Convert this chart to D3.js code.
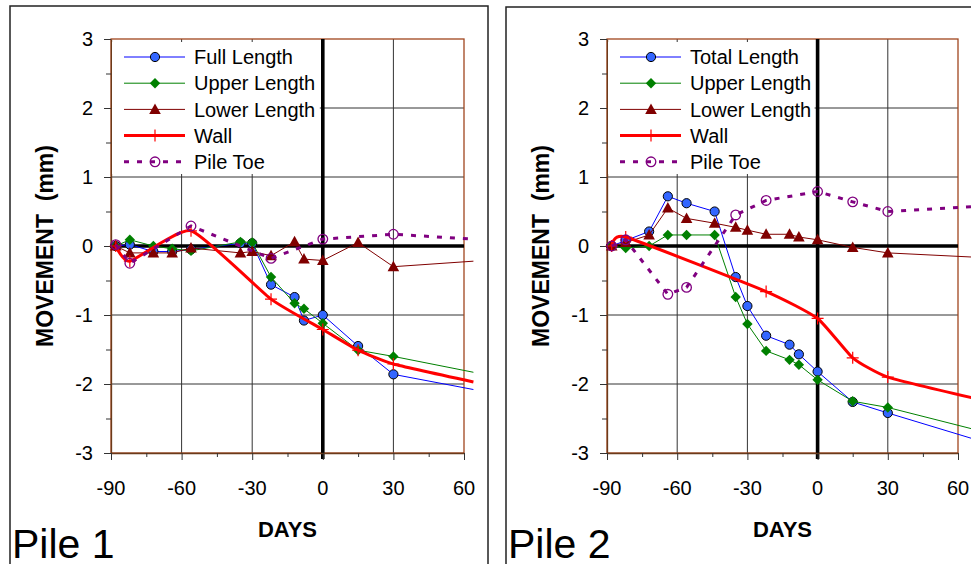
<!DOCTYPE html>
<html>
<head>
<meta charset="utf-8">
<script src="https://cdn.jsdelivr.net/npm/d3@7"></script>
<style>
  body { margin: 0; background: #fff; }
  svg { display: block; font-family: Arial, "Liberation Sans", sans-serif; }
</style>
</head>
<body>
<svg id="chart" width="971" height="564"></svg>
<script>
// Axis ticks
const xTickValues = [-90, -60, -30, 0, 30, 60];
const yTickValues = [3, 2, 1, 0, -1, -2, -3];

// Legend labels
const pile1Names = ["Full Length", "Upper Length", "Lower Length", "Wall", "Pile Toe"];
const pile2Names = ["Total Length", "Upper Length", "Lower Length", "Wall", "Pile Toe"];

// Pile 1 readings: days from reference date, movement in mm
const pile1Days  = [-88, -82, -72, -64, -56, -35, -30, -22, -12, -8, 0, 15, 30];
const pile1Full  = [0, 0.02, -0.08, -0.08, -0.05, 0.04, 0.04, -0.56, -0.74, -1.08, -1.0, -1.45, -1.86];
const pile1Upper = [0, 0.09, 0, -0.04, -0.07, 0.06, 0.05, -0.45, -0.83, -0.91, -1.12, -1.51, -1.6];
const pile1Lower = [0, -0.1, -0.1, -0.1, -0.03, -0.1, -0.08, -0.14, 0.06, -0.19, -0.21, 0.05, -0.3];
const pile1WallDays = [-88, -82, -56, -22, 0, 15, 30];
const pile1Wall     = [0, -0.22, 0.22, -0.77, -1.21, -1.51, -1.71];
const pile1ToeDays  = [-88, -82, -56, -22, 0, 30];
const pile1Toe      = [0.02, -0.25, 0.29, -0.18, 0.1, 0.17];
// trend lines run on past the last reading
const pile1RunoutDay = 64;
const pile1Runout = [-2.08, -1.83, -0.22, -1.97, 0.1];

// Pile 2 readings
const pile2Days  = [-88, -82, -72, -64, -56, -44, -35, -30, -22, -12, -8, 0, 15, 30];
const pile2Total = [0, 0.08, 0.21, 0.72, 0.62, 0.5, -0.45, -0.87, -1.3, -1.43, -1.57, -1.82, -2.26, -2.42];
const pile2Upper = [0, -0.03, 0, 0.16, 0.16, 0.16, -0.74, -1.13, -1.52, -1.65, -1.72, -1.94, -2.25, -2.34];
const pile2Lower = [0, 0.05, 0.16, 0.55, 0.4, 0.33, 0.27, 0.23, 0.17, 0.17, 0.13, 0.09, -0.02, -0.1];
const pile2WallDays = [-88, -82, -22, 0, 15, 30];
const pile2Wall     = [0, 0.13, -0.66, -1.05, -1.62, -1.9];
const pile2ToeDays  = [-88, -82, -64, -56, -35, -22, 0, 15, 30];
const pile2Toe      = [0, 0.09, -0.7, -0.6, 0.45, 0.66, 0.79, 0.64, 0.5];
const pile2RunoutDay = 66;
const pile2Runout = [-2.79, -2.65, -0.16, -2.2, 0.57];

// Series styling, in legend order
const styles = [
  { color: "#0000ff", width: 1, dash: null, marker: "circle", curve: d3.curveLinear },
  { color: "#008000", width: 1, dash: null, marker: "diamond", curve: d3.curveLinear },
  { color: "#800000", width: 1, dash: null, marker: "triangle", curve: d3.curveLinear },
  { color: "#ff0000", width: 3, dash: null, marker: "plus", curve: d3.curveCardinal.tension(0.5) },
  { color: "#800080", width: 3, dash: "5,8", marker: "ring", curve: d3.curveLinear }
];

function drawMarker(g, type, x, y) {
  if (type === "circle") {
    g.append("circle").attr("cx", x).attr("cy", y).attr("r", 4.6)
      .attr("fill", "#3366ff").attr("stroke", "#000").attr("stroke-width", 1);
  } else if (type === "diamond") {
    g.append("path").attr("d", `M${x},${y - 5.2}L${x + 5.2},${y}L${x},${y + 5.2}L${x - 5.2},${y}Z`)
      .attr("fill", "#008000");
  } else if (type === "triangle") {
    g.append("path").attr("d", `M${x},${y - 6}L${x + 5.8},${y + 4.5}L${x - 5.8},${y + 4.5}Z`)
      .attr("fill", "#800000");
  } else if (type === "plus") {
    g.append("path").attr("d", `M${x - 6},${y}H${x + 6}M${x},${y - 6}V${y + 6}`)
      .attr("stroke", "#ff0000").attr("stroke-width", 1.2).attr("fill", "none");
  } else if (type === "ring") {
    g.append("circle").attr("cx", x).attr("cy", y).attr("r", 4.8)
      .attr("fill", "none").attr("stroke", "#800080").attr("stroke-width", 1.3);
  }
}

const svg = d3.select("#chart");

function drawPanel(cfg) {
  const { frame, plot, names, series, runoutDay, runout, title } = cfg;
  const g = svg.append("g");

  // outer frame
  g.append("rect").attr("x", frame.x).attr("y", frame.y)
    .attr("width", frame.w).attr("height", frame.h)
    .attr("fill", "#fff").attr("stroke", "#222").attr("stroke-width", 1.5);

  const x = d3.scaleLinear().domain([-90, 60]).range([plot.x0, plot.x1]);
  const y = d3.scaleLinear().domain([-3, 3]).range([plot.y1, plot.y0]);

  // grid lines
  const grid = g.append("g").attr("stroke", "#333").attr("stroke-width", 1);
  [-60, -30, 30].forEach(v => grid.append("line")
    .attr("x1", x(v)).attr("x2", x(v)).attr("y1", plot.y0).attr("y2", plot.y1));
  [2, 1, -1, -2].forEach(v => grid.append("line")
    .attr("x1", plot.x0).attr("x2", plot.x1).attr("y1", y(v)).attr("y2", y(v)));

  // plot border
  g.append("rect").attr("x", plot.x0).attr("y", plot.y0)
    .attr("width", plot.x1 - plot.x0).attr("height", plot.y1 - plot.y0)
    .attr("fill", "none").attr("stroke", "#a0461e").attr("stroke-width", 1.3);

  // legend panel (white, covers the grid)
  const lg = g.append("g");
  lg.append("rect").attr("x", plot.x0 + 1).attr("y", plot.y0 + 3)
    .attr("width", x(0) - plot.x0 - 4).attr("height", 132).attr("fill", "#fff");

  // zero reference lines
  g.append("line").attr("x1", plot.x0 - 1).attr("x2", plot.x1)
    .attr("y1", y(0)).attr("y2", y(0)).attr("stroke", "#000").attr("stroke-width", 3.6);
  g.append("line").attr("x1", x(0)).attr("x2", x(0))
    .attr("y1", plot.y0).attr("y2", plot.y1 + 6).attr("stroke", "#000").attr("stroke-width", 3.6);

  // axes
  const yAxis = d3.axisLeft(y).tickValues(d3.range(-3, 3.01, 0.5)).tickSize(0).tickFormat("");
  const ya = g.append("g").attr("transform", `translate(${plot.x0},0)`).call(yAxis);
  ya.select(".domain").attr("stroke", "#6b3a1a").attr("stroke-width", 1.3);
  ya.selectAll(".tick line")
    .attr("x2", d => Number.isInteger(d) ? -7 : -5).attr("stroke", "#333");
  const xAxis = d3.axisBottom(x).tickValues(d3.range(-90, 61, 15)).tickSize(0).tickFormat("");
  const xa = g.append("g").attr("transform", `translate(0,${plot.y1})`).call(xAxis);
  xa.select(".domain").attr("stroke", "#6b3a1a").attr("stroke-width", 1.3);
  xa.selectAll(".tick line")
    .attr("y2", d => d % 30 === 0 ? 7 : 4).attr("stroke", "#333");

  // tick labels
  g.selectAll(".ylab").data(yTickValues).join("text")
    .attr("x", plot.x0 - 18).attr("y", d => y(d)).attr("dy", "0.36em")
    .attr("text-anchor", "end").attr("font-size", 20).text(d => d);
  g.selectAll(".xlab").data(xTickValues).join("text")
    .attr("x", d => x(d)).attr("y", plot.y1 + 42)
    .attr("text-anchor", "middle").attr("font-size", 20).text(d => d);

  // axis titles
  g.append("text").attr("transform", `translate(${plot.x0 - 58},${(plot.y0 + plot.y1) / 2}) rotate(-90)`)
    .attr("text-anchor", "middle").attr("font-size", 23).attr("font-weight", "bold")
    .attr("xml:space", "preserve").text("MOVEMENT  (mm)");
  g.append("text").attr("x", (plot.x0 + plot.x1) / 2).attr("y", plot.y1 + 84)
    .attr("text-anchor", "middle").attr("font-size", 22).attr("font-weight", "bold").text("DAYS");

  // panel label
  g.append("text").attr("x", frame.x + 2).attr("y", 558).attr("font-size", 41).text(title);

  // data series
  series.forEach((s, i) => {
    const st = styles[i];
    const pts = s.days.map((d, k) => [d, s.values[k]]);
    const linePts = pts.concat([[runoutDay, runout[i]]]);
    const line = d3.line().x(d => x(d[0])).y(d => y(d[1])).curve(st.curve);
    g.append("path").attr("d", line(linePts)).attr("fill", "none")
      .attr("stroke", st.color).attr("stroke-width", st.width)
      .attr("stroke-dasharray", st.dash).attr("stroke-linejoin", "round");
    const mg = g.append("g");
    pts.forEach(p => drawMarker(mg, st.marker, x(p[0]), y(p[1])));
  });

  // legend entries
  names.forEach((n, i) => {
    const st = styles[i];
    const ly = plot.y0 + 18 + i * 26.2;
    lg.append("line").attr("x1", plot.x0 + 13).attr("x2", plot.x0 + 74)
      .attr("y1", ly).attr("y2", ly).attr("stroke", st.color).attr("stroke-width", st.width)
      .attr("stroke-dasharray", st.dash);
    drawMarker(lg, st.marker, plot.x0 + 44, ly);
    lg.append("text").attr("x", plot.x0 + 83).attr("y", ly).attr("dy", "0.36em")
      .attr("font-size", 20).text(n);
  });
  lg.raise();
}

drawPanel({
  frame: { x: 10, y: 6, w: 478, h: 600 },
  plot: { x0: 111, x1: 464, y0: 39, y1: 453 },
  names: pile1Names,
  title: "Pile 1",
  series: [
    { days: pile1Days, values: pile1Full },
    { days: pile1Days, values: pile1Upper },
    { days: pile1Days, values: pile1Lower },
    { days: pile1WallDays, values: pile1Wall },
    { days: pile1ToeDays, values: pile1Toe }
  ],
  runoutDay: pile1RunoutDay,
  runout: pile1Runout
});

drawPanel({
  frame: { x: 506, y: 7, w: 480, h: 600 },
  plot: { x0: 607, x1: 958, y0: 39, y1: 453 },
  names: pile2Names,
  title: "Pile 2",
  series: [
    { days: pile2Days, values: pile2Total },
    { days: pile2Days, values: pile2Upper },
    { days: pile2Days, values: pile2Lower },
    { days: pile2WallDays, values: pile2Wall },
    { days: pile2ToeDays, values: pile2Toe }
  ],
  runoutDay: pile2RunoutDay,
  runout: pile2Runout
});
</script>
</body>
</html>
